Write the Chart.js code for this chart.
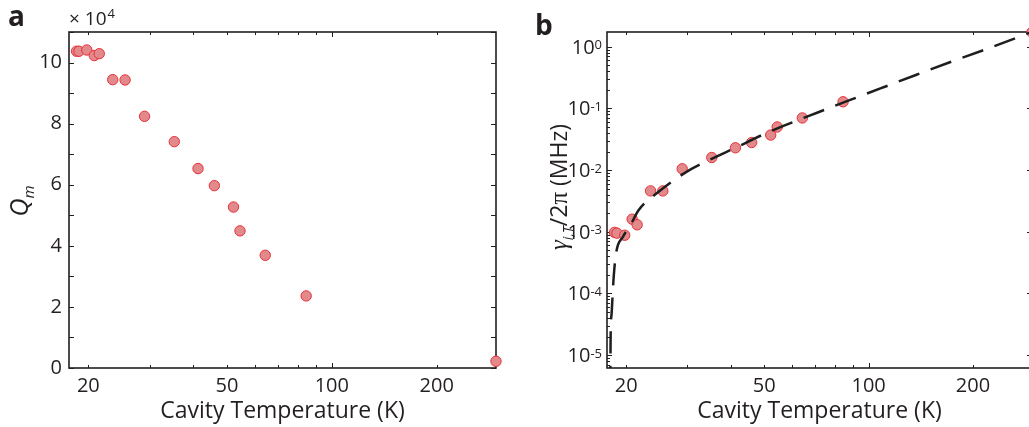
<!DOCTYPE html>
<html>
<head>
<meta charset="utf-8">
<script src="https://cdn.jsdelivr.net/npm/chart.js@4.4.0/dist/chart.umd.min.js"></script>
<style>
  html, body { margin: 0; padding: 0; background: #fff; overflow: hidden; }
  #wrap { position: relative; width: 1029px; height: 427px; overflow: hidden; }
  #boxA { position: absolute; left: 0; top: 0; width: 520px; height: 427px; }
  #boxB { position: absolute; left: 520px; top: 0; width: 520px; height: 427px; }
</style>
</head>
<body>
<div id="wrap">
  <div id="boxA"><canvas id="chartA"></canvas></div>
  <div id="boxB"><canvas id="chartB"></canvas></div>
</div>
<script>
/* values */
const temps = [18.5, 18.8, 19.8, 20.8, 21.5, 23.5, 25.5, 29.0, 35.3, 41.3, 46.0, 52.2, 54.5, 64.4, 84.4, 296];
// Q_m in units of 10^4
const qm = [10.37, 10.37, 10.41, 10.23, 10.29, 9.44, 9.43, 8.24, 7.41, 6.53, 5.97, 5.27, 4.49, 3.69, 2.36, 0.22];
// gamma_{i,T}/2pi in MHz
const gamma = [9.8e-4, 9.5e-4, 8.8e-4, 1.6e-3, 1.3e-3, 4.6e-3, 4.6e-3, 1.05e-2, 1.6e-2, 2.3e-2, 2.8e-2, 3.7e-2, 5.0e-2, 7.0e-2, 0.128, 1.72];

// dashed fit curve, traced point by point
const fitT = [17.97, 18.0, 18.03, 18.16, 18.35, 18.66, 19.57, 20.45, 21.73, 24.74, 29.6, 35.4, 41.3, 49.3, 56.8, 71.0, 88.5, 110.4, 136.9, 170, 212.2, 264.7, 296];
const fitG = [3e-6, 6.2e-6, 2.05e-5, 5.0e-5, 1.48e-4, 4.2e-4, 8.3e-4, 1.21e-3, 2.25e-3, 4.4e-3, 9.1e-3, 1.54e-2, 2.3e-2, 3.7e-2, 5.2e-2, 8.5e-2, 0.137, 0.22, 0.348, 0.55, 0.86, 1.37, 1.75];

const xTickVals = [20, 30, 40, 50, 60, 70, 80, 90, 100, 200];
const xLabelVals = [20, 50, 100, 200];
const yTicksA = [0, 1, 2, 3, 4, 5, 6, 7, 8, 9, 10, 11];
const yLabelsA = [0, 2, 4, 6, 8, 10];
const decadesB = [-5, -4, -3, -2, -1, 0];

const T_MIN = 17.6, T_MAX = 296;
const FONT = '"Open Sans", "Noto Sans", sans-serif';
const INK = '#231f20';
const DOT_FILL = '#e1898b';
const DOT_EDGE = '#e8313a';

Chart.defaults.font.family = FONT;
Chart.defaults.color = INK;

function xAxis() {
  return {
    type: 'logarithmic',
    min: T_MIN,
    max: T_MAX,
    afterBuildTicks: s => {
      s.ticks = xTickVals.filter(v => v >= s.min && v <= s.max).map(v => ({ value: v, major: v === 100 }));
    },
    afterFit: s => { s.height = 59; },
    grid: { display: false, drawTicks: false },
    border: { display: false },
    ticks: {
      autoSkip: false, maxRotation: 0, padding: 6,
      font: { size: 20 },
      callback: v => xLabelVals.includes(v) ? String(v) : ''
    },
    title: { display: true, text: 'Cavity Temperature (K)', font: { size: 23 }, padding: { top: 0, bottom: 2 } }
  };
}

// box + inward tick marks, drawn under the markers
function framePlugin(yMinor) {
  return {
    id: 'frame',
    beforeDatasetsDraw(chart) {
      const { ctx, chartArea: a, scales } = chart;
      ctx.save();
      ctx.strokeStyle = INK;
      ctx.lineWidth = 1.6;
      ctx.strokeRect(a.left, a.top, a.right - a.left, a.bottom - a.top);
      ctx.lineWidth = 1;
      ctx.beginPath();
      scales.x.ticks.forEach(t => {
        const px = Math.round(scales.x.getPixelForValue(t.value)) + 0.5;
        const len = t.major ? 5 : 3;
        ctx.moveTo(px, a.bottom); ctx.lineTo(px, a.bottom - len);
        ctx.moveTo(px, a.top); ctx.lineTo(px, a.top + len);
      });
      scales.y.ticks.forEach(t => {
        const py = Math.round(scales.y.getPixelForValue(t.value)) + 0.5;
        const len = yMinor(t.value) ? 3 : 5;
        ctx.moveTo(a.left, py); ctx.lineTo(a.left + len, py);
        ctx.moveTo(a.right, py); ctx.lineTo(a.right - len, py);
      });
      ctx.stroke();
      ctx.restore();
    }
  };
}

// rotated rich text (for y titles with subscripts)
function drawRotated(ctx, parts, baseX, centerY) {
  ctx.save();
  let total = 0;
  parts.forEach(p => { ctx.font = p.font; p.w = ctx.measureText(p.text).width; total += p.w; });
  ctx.translate(baseX, centerY);
  ctx.rotate(-Math.PI / 2);
  ctx.fillStyle = INK;
  ctx.textBaseline = 'alphabetic';
  let x = -total / 2;
  parts.forEach(p => { ctx.font = p.font; ctx.fillText(p.text, x, p.dy || 0); x += p.w; });
  ctx.restore();
}

const labelsA = {
  id: 'labelsA',
  afterDraw(chart) {
    const ctx = chart.ctx;
    ctx.save();
    ctx.fillStyle = INK;
    ctx.font = 'bold 28px ' + FONT;
    ctx.fillText('a', 8, 26);
    ctx.font = '19px ' + FONT;
    ctx.fillText('\u00d7 10', 69, 25);
    const w = ctx.measureText('\u00d7 10').width;
    ctx.font = '13px ' + FONT;
    ctx.fillText('4', 69 + w + 1, 18);
    ctx.restore();
    drawRotated(ctx, [
      { text: 'Q', font: 'italic 25px ' + FONT },
      { text: 'm', font: 'italic 15px ' + FONT, dy: 6 }
    ], 28, 201);
  }
};

const labelsB = {
  id: 'labelsB',
  afterDraw(chart) {
    const ctx = chart.ctx;
    const y = chart.scales.y;
    const right = chart.chartArea.left - 5;
    ctx.save();
    ctx.fillStyle = INK;
    ctx.font = 'bold 28px ' + FONT;
    ctx.fillText('b', 15, 35);
    decadesB.forEach(d => {
      const py = y.getPixelForValue(Math.pow(10, d));
      const ex = String(d);
      ctx.font = '13px ' + FONT;
      const we = ctx.measureText(ex).width;
      ctx.fillText(ex, right - we, py + 2.5);
      ctx.font = '20px ' + FONT;
      const wb = ctx.measureText('10').width;
      ctx.fillText('10', right - we - wb, py + 7);
    });
    ctx.restore();
    drawRotated(ctx, [
      { text: '\u03b3', font: 'italic 25px "Liberation Serif", serif' },
      { text: 'i,T', font: 'italic 14px ' + FONT, dy: 6 },
      { text: '/2', font: '23px ' + FONT },
      { text: '\u03c0', font: '25px "Liberation Serif", serif' },
      { text: ' (MHz)', font: '23px ' + FONT }
    ], 47, 187);
  }
};

const dotStyle = {
  pointRadius: 5.2,
  pointBackgroundColor: DOT_FILL,
  pointBorderColor: DOT_EDGE,
  pointBorderWidth: 1,
  clip: false
};

new Chart(document.getElementById('chartA'), {
  type: 'scatter',
  data: {
    datasets: [
      Object.assign({ label: 'Q_m', data: temps.map((t, i) => ({ x: t, y: qm[i] })) }, dotStyle)
    ]
  },
  options: {
    responsive: true, maintainAspectRatio: false, animation: false, devicePixelRatio: 1, events: [],
    layout: { padding: { top: 32, right: 24, left: 0, bottom: 0 } },
    plugins: { legend: { display: false }, tooltip: { enabled: false } },
    scales: {
      x: xAxis(),
      y: {
        type: 'linear', min: 0, max: 11,
        afterBuildTicks: s => { s.ticks = yTicksA.map(v => ({ value: v })); },
        afterFit: s => { s.width = 69; },
        grid: { display: false, drawTicks: false },
        border: { display: false },
        ticks: { padding: 7, font: { size: 20 }, autoSkip: false, callback: v => yLabelsA.includes(v) ? String(v) : '' }
      }
    }
  },
  plugins: [framePlugin(v => false), labelsA]
});

const yTicksB = [];
decadesB.concat([-6]).forEach(d => {
  for (let m = 1; m <= 9; m++) yTicksB.push(m * Math.pow(10, d));
});

new Chart(document.getElementById('chartB'), {
  type: 'scatter',
  data: {
    datasets: [
      {
        label: 'fit', type: 'line', showLine: true,
        data: fitT.map((t, i) => ({ x: t, y: fitG[i] })),
        borderColor: '#1e1e1e', borderWidth: 2.5, borderDash: [22, 12],
        pointRadius: 0, fill: false, cubicInterpolationMode: 'monotone'
      },
      Object.assign({ label: 'gamma', data: temps.map((t, i) => ({ x: t, y: gamma[i] })) }, dotStyle)
    ]
  },
  options: {
    responsive: true, maintainAspectRatio: false, animation: false, devicePixelRatio: 1, events: [],
    layout: { padding: { top: 32, right: 8, left: 0, bottom: 0 } },
    plugins: { legend: { display: false }, tooltip: { enabled: false } },
    scales: {
      x: xAxis(),
      y: {
        type: 'logarithmic', min: 6.2e-6, max: 1.73,
        afterBuildTicks: s => {
          s.ticks = yTicksB.filter(v => v >= s.min && v <= s.max).map(v => ({ value: v }));
        },
        afterFit: s => { s.width = 87; },
        grid: { display: false, drawTicks: false },
        border: { display: false },
        ticks: { display: false }
      }
    }
  },
  plugins: [framePlugin(v => Math.abs(Math.log10(v) - Math.round(Math.log10(v))) > 1e-6), labelsB]
});
</script>
</body>
</html>
